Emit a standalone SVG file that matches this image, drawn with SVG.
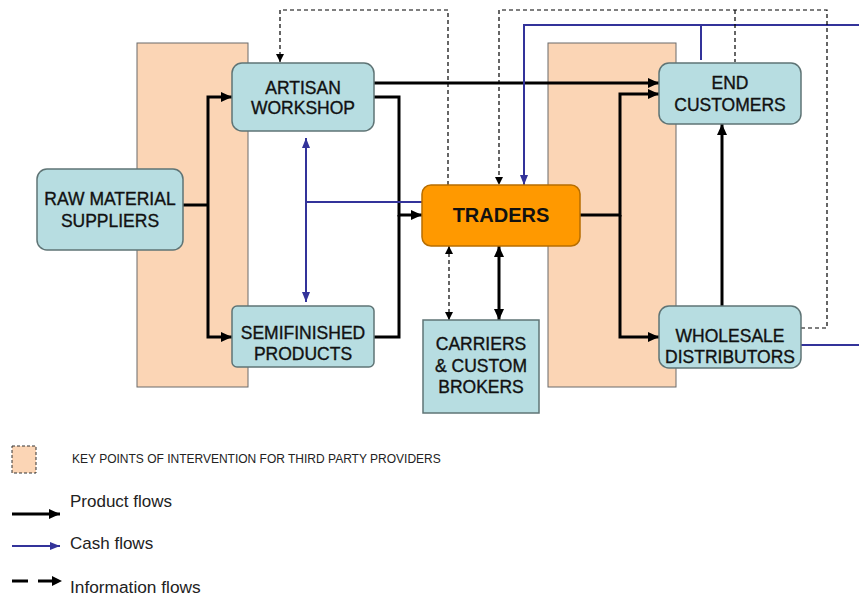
<svg xmlns="http://www.w3.org/2000/svg" width="859" height="597" viewBox="0 0 859 597">
<style>
.zone{fill:#FBD5B5;stroke:#6b6b6b;stroke-width:1}
.node{fill:#B7DDE1;stroke:#5f7475;stroke-width:1.5}
.trader{fill:#FF9900;stroke:#B86E00;stroke-width:1.5}
.t{font-family:"Liberation Sans",Arial,sans-serif;font-size:17.5px;fill:#111;stroke:#111;stroke-width:0.35;text-anchor:middle}
.tb{font-family:"Liberation Sans",Arial,sans-serif;font-size:20px;font-weight:bold;fill:#111;text-anchor:middle}
.prod{fill:none;stroke:#000;stroke-width:3}
.cash{fill:none;stroke:#33339A;stroke-width:2}
.info{fill:none;stroke:#000;stroke-width:1.2;stroke-dasharray:4 3}
.leg{font-family:"Liberation Sans",Arial,sans-serif;fill:#222}
</style>
<defs>
<marker id="ab" markerUnits="userSpaceOnUse" markerWidth="11" markerHeight="10" refX="11" refY="5" orient="auto-start-reverse"><path d="M0,0 L11,5 L0,10 z" fill="#000"/></marker>
<marker id="ac" markerUnits="userSpaceOnUse" markerWidth="10" markerHeight="8" refX="10" refY="4" orient="auto-start-reverse"><path d="M0,0 L10,4 L0,8 z" fill="#33339A"/></marker>
<marker id="ai" markerUnits="userSpaceOnUse" markerWidth="8" markerHeight="8" refX="8" refY="4" orient="auto-start-reverse"><path d="M0,0 L8,4 L0,8 z" fill="#000"/></marker>
</defs>

<g id="zones">
<rect class="zone" x="137" y="43" width="111" height="344"/>
<rect class="zone" x="548" y="43" width="128" height="344"/>
</g>

<g id="connectors">
<path class="prod" d="M183,205 H208"/>
<path class="prod" d="M208,205 V97 H232" marker-end="url(#ab)"/>
<path class="prod" d="M208,205 V337 H232" marker-end="url(#ab)"/>
<path class="prod" d="M374,83 H659" marker-end="url(#ab)"/>
<path class="prod" d="M374,97 H399 V215 H422" marker-end="url(#ab)"/>
<path class="prod" d="M374,337 H399 V215"/>
<path class="prod" d="M580,215 H620 V94 H659" marker-end="url(#ab)"/>
<path class="prod" d="M620,215 V337 H659" marker-end="url(#ab)"/>
<path class="prod" d="M722,306 V124" marker-end="url(#ab)"/>
<path class="prod" d="M499,246 V320" marker-start="url(#ab)" marker-end="url(#ab)"/>
<path class="cash" d="M306,138 V302" marker-start="url(#ac)" marker-end="url(#ac)"/>
<path class="cash" d="M306,202 H422"/>
<path class="cash" d="M859,25 H524 V185" marker-end="url(#ac)"/>
<path class="cash" d="M701,25 V60"/>
<path class="cash" d="M801,345 H859"/>
<path class="info" d="M448,185 V10 H280 V62" marker-end="url(#ai)"/>
<path class="info" d="M801,328 H827 V10 H499 V185" marker-end="url(#ai)"/>
<path class="info" d="M735,10 V62"/>
<path class="info" d="M449,246 V320" marker-start="url(#ai)" marker-end="url(#ai)"/>
</g>

<g id="raw">
<rect class="node" x="37" y="169" width="146" height="81" rx="10"/>
<text class="t" x="110" y="205">RAW MATERIAL</text>
<text class="t" x="110" y="227">SUPPLIERS</text>
</g>
<g id="artisan">
<rect class="node" x="232" y="63" width="142" height="68" rx="10"/>
<text class="t" x="303" y="94">ARTISAN</text>
<text class="t" x="303" y="114">WORKSHOP</text>
</g>
<g id="semifinished">
<rect class="node" x="232" y="306" width="142" height="61" rx="5"/>
<text class="t" x="303" y="339">SEMIFINISHED</text>
<text class="t" x="303" y="360">PRODUCTS</text>
</g>
<g id="traders">
<rect class="trader" x="422" y="185" width="158" height="61" rx="9"/>
<text class="tb" x="501" y="222">TRADERS</text>
</g>
<g id="carriers">
<rect class="node" x="423" y="320" width="116" height="93" rx="0"/>
<text class="t" x="481" y="350">CARRIERS</text>
<text class="t" x="481" y="372">&amp; CUSTOM</text>
<text class="t" x="481" y="393">BROKERS</text>
</g>
<g id="end">
<rect class="node" x="659" y="63" width="142" height="61" rx="10"/>
<text class="t" x="730" y="89">END</text>
<text class="t" x="730" y="111">CUSTOMERS</text>
</g>
<g id="wholesale">
<rect class="node" x="659" y="306" width="142" height="62" rx="10"/>
<text class="t" x="730" y="342">WHOLESALE</text>
<text class="t" x="730" y="363">DISTRIBUTORS</text>
</g>

<g id="legend">
<rect x="12" y="446" width="24" height="27" fill="#FBD5B5" stroke="#333" stroke-width="1" stroke-dasharray="3 2"/>
<text class="leg" x="72" y="463" font-size="12">KEY POINTS OF INTERVENTION FOR THIRD PARTY PROVIDERS</text>
<path class="prod" d="M12,514 H60" marker-end="url(#ab)"/>
<text class="leg" x="70" y="507" font-size="17">Product flows</text>
<path class="cash" d="M12,546 H60" marker-end="url(#ac)"/>
<text class="leg" x="70" y="549" font-size="17">Cash flows</text>
<path d="M12,581 H28 M38,581 H52" stroke="#000" stroke-width="3" fill="none"/>
<path d="M52,576 L62,581 L52,586 z" fill="#000"/>
<text class="leg" x="70" y="593" font-size="17.3">Information flows</text>
</g>
</svg>
